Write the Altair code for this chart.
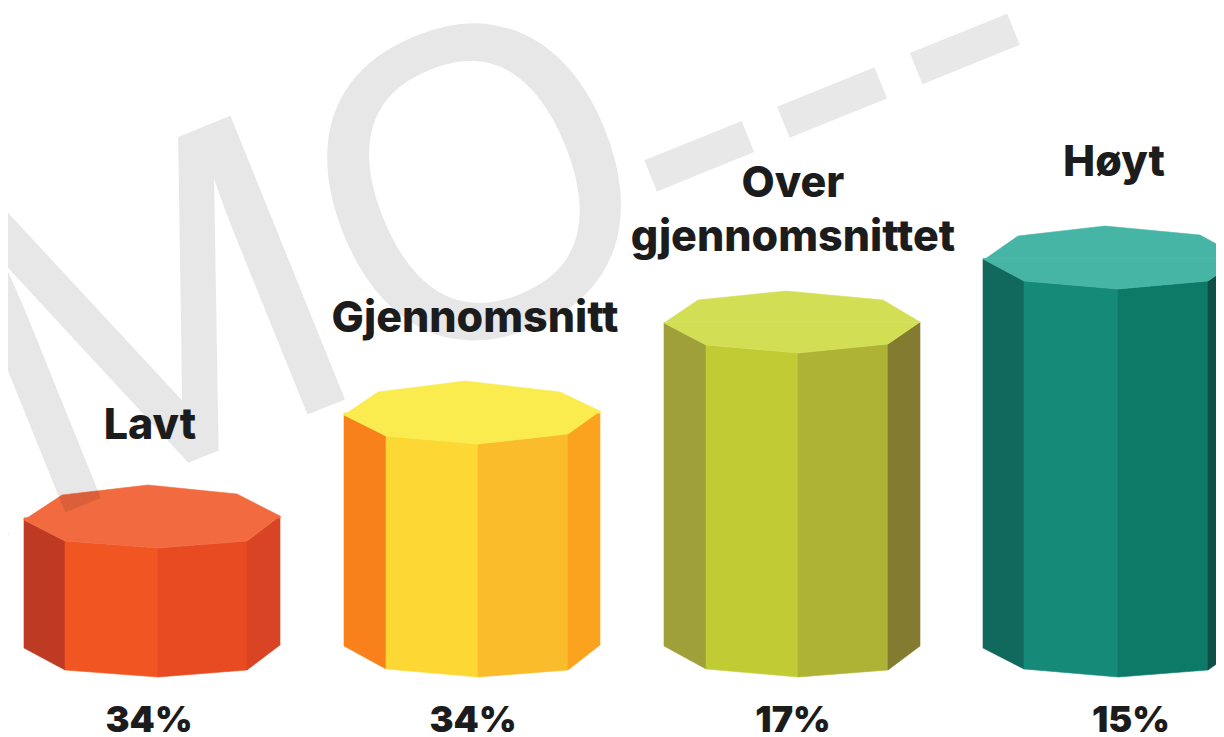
import altair as alt
import pandas as pd

# --- pillar geometry (x = picture x, y = picture y) ---
names = ["Lavt", "Gjennomsnitt", "Over gjennomsnittet", "Høyt"]
percent_labels = ["34%", "34%", "17%", "15%"]

# edge columns of the side faces: left, lower-left, front, lower-right, right
edge_x = [
    [24, 65, 158, 247, 280],
    [344, 386, 478, 568, 600],
    [664, 706, 798, 888, 920],
    [983, 1024, 1118, 1208, 1242],
]
face_top = [
    [520, 541, 548, 541, 516],
    [415, 436, 444, 434, 411],
    [323, 345, 353, 344, 322],
    [259, 281, 289, 281, 258],
]
face_bottom = [
    [648, 670, 677, 670, 645],
    [646, 669, 677, 670, 645],
    [646, 669, 677, 670, 646],
    [648, 669, 677, 670, 646],
]
# upper rim of each top cap: left, upper-left, back, upper-right, right
rim_x = [
    [24, 62, 148, 237, 280],
    [344, 378, 465, 560, 600],
    [664, 698, 786, 883, 920],
    [985, 1018, 1105, 1200, 1242],
]
rim_y = [
    [520, 495, 485, 494, 516],
    [415, 392, 381, 392, 411],
    [323, 300, 291, 300, 322],
    [259, 236, 226, 235, 258],
]
face_colors = [
    ["#BE3A22", "#F15522", "#E84A22", "#D94524"],
    ["#F8811B", "#FDD835", "#FABC2A", "#FBA31F"],
    ["#A0A03A", "#C1CC35", "#AFB335", "#827B30"],
    ["#10695C", "#158A78", "#0D7A68", "#0F4F45"],
]
cap_colors = ["#F26B40", "#FAEB4F", "#D2DF55", "#47B5A5"]

label_rows = [
    ("Lavt", 150, 426),
    ("Gjennomsnitt", 475, 319),
    ("Over", 793, 184),
    ("gjennomsnittet", 793, 238),
    ("Høyt", 1114, 163),
]
percent_x = [149, 473, 793, 1131]
percent_y = 721

word_text = ["DEMO"]
word_x = [682]
word_y = [260]
dash_text = ["---"]
dash_x = [1074]
dash_y = [128]

# --- tables ---
rows = []
for p in range(4):
    for f in range(4):
        for k in (f, f + 1):
            rows.append(dict(shape=f"p{p}f{f}", x=edge_x[p][k], y=face_top[p][k],
                             y2=face_bottom[p][k], col=face_colors[p][f]))
    mid = (rim_y[p][0] + rim_y[p][4]) / 2
    for k in range(5):
        rows.append(dict(shape=f"p{p}up", x=rim_x[p][k], y=rim_y[p][k], y2=mid, col=cap_colors[p]))
        rows.append(dict(shape=f"p{p}lo", x=edge_x[p][k], y=mid, y2=face_top[p][k], col=cap_colors[p]))
faces = pd.DataFrame(rows)
labels = pd.DataFrame(label_rows, columns=["t", "x", "y"])
percents = pd.DataFrame({"t": percent_labels, "x": percent_x, "y": [percent_y] * 4})
word = pd.DataFrame({"t": word_text, "x": word_x, "y": word_y})
dash = pd.DataFrame({"t": dash_text, "x": dash_x, "y": dash_y})

X = alt.X("x:Q", scale=alt.Scale(domain=[8, 1216]), axis=None)
Y = alt.Y("y:Q", scale=alt.Scale(domain=[737, 8]), axis=None)

word_mark = alt.Chart(word).mark_text(
    font="Open Sans", fontSize=420, angle=338, align="right",
    baseline="alphabetic", color="#000000", stroke="#000000", strokeWidth=6,
    opacity=0.09, clip=True,
).encode(x=X, y=Y, text="t:N")
dash_mark = alt.Chart(dash).mark_text(
    font="Liberation Sans", fontSize=430, angle=338, align="right",
    baseline="alphabetic", color="#E8E8E8", clip=True,
).encode(x=X, y=Y, text="t:N")

pillars = alt.Chart(faces).mark_area(clip=True, strokeWidth=0.6, interpolate="linear", opacity=1).encode(
    x=X, y=Y, y2="y2:Q",
    detail="shape:N",
    fill=alt.Fill("col:N", scale=None),
    stroke=alt.Stroke("col:N", scale=None),
)

label_text = alt.Chart(labels).mark_text(
    font="Inter", fontWeight=800, fontSize=43, color="#1C1C1C",
).encode(x=X, y=Y, text="t:N")
percent_text = alt.Chart(percents).mark_text(
    font="Inter", fontWeight=900, fontSize=36, color="#1C1C1C",
).encode(x=X, y=Y, text="t:N")

chart = (dash_mark + pillars + word_mark + label_text + percent_text).properties(
    width=1208, height=729, padding=0, background="white",
    autosize=alt.AutoSizeParams(type="none"),
).configure_view(strokeWidth=0)

chart.save("out.html", embed_options={"renderer": "svg", "actions": False})
